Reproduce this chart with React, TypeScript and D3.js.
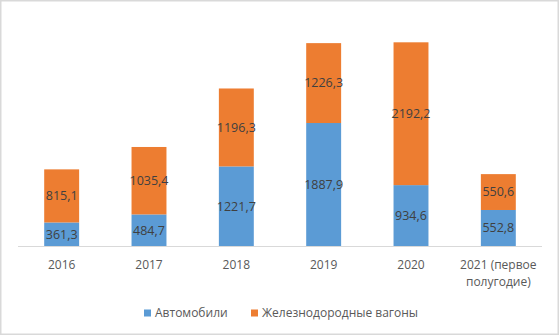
import React from "react";
import * as d3 from "d3";

const categories = ["2016", "2017", "2018", "2019", "2020", "2021 (первое полугодие)"];
const categoryLines = [["2016"], ["2017"], ["2018"], ["2019"], ["2020"], ["2021 (первое", "полугодие)"]];
const cars = [361.3, 484.7, 1221.7, 1887.9, 934.6, 552.8];
const wagons = [815.1, 1035.4, 1196.3, 1226.3, 2192.2, 550.6];
const seriesNames = ["Автомобили", "Железнодородные вагоны"];
const colors = ["#5B9BD5", "#ED7D31"];

const W = 560;
const H = 336;
const fmt = (v: number) => v.toFixed(1).replace(".", ",");

export default function App() {
  const x = d3.scaleBand<string>().domain(categories).range([18, 542]).paddingInner(0.6).paddingOuter(0.3);
  const y = d3.scaleLinear().domain([0, 3500]).range([246, 18]);
  const stackData = categories.map((c, i) => ({ cat: c, a: cars[i], b: wagons[i] }));
  const stack = d3.stack<any>().keys(["a", "b"])(stackData);
  const font = "'Open Sans', sans-serif";

  return (
    <svg width={W} height={H} style={{ position: "absolute", left: 0, top: 0 }} fontFamily={font}>
      <rect x={0} y={0} width={W} height={H} fill="#fff" />
      <rect x={0.75} y={0.75} width={557.5} height={333.5} fill="none" stroke="#d9d9d9" strokeWidth={1.5} />
      {stack.map((s, si) => (
        <g key={si}>
          {s.map((d, i) => {
            const y0 = y(d[0]);
            const y1 = y(d[1]);
            const bx = x(categories[i])!;
            return (
              <g key={i}>
                <rect x={bx} y={y1} width={x.bandwidth()} height={y0 - y1} fill={colors[si]} />
                <text
                  x={bx + x.bandwidth() / 2}
                  y={(y0 + y1) / 2}
                  dy="0.35em"
                  textAnchor="middle"
                  fontSize={12.5}
                  fill="#404040"
                >
                  {fmt(si === 0 ? cars[i] : wagons[i])}
                </text>
              </g>
            );
          })}
        </g>
      ))}
      <line x1={18} x2={542} y1={246.5} y2={246.5} stroke="#d9d9d9" strokeWidth={1} />
      {categories.map((c, i) => (
        <text key={c} x={x(c)! + x.bandwidth() / 2} y={269} textAnchor="middle" fontSize={12} fill="#595959">
          {categoryLines[i].map((l, li) => (
            <tspan key={li} x={x(c)! + x.bandwidth() / 2} dy={li === 0 ? 0 : 17}>
              {l}
            </tspan>
          ))}
        </text>
      ))}
      <g>
        <rect x={144} y={309.5} width={7} height={7} fill={colors[0]} />
        <text x={155} y={317} fontSize={12} fill="#595959">{seriesNames[0]}</text>
        <rect x={251} y={309.5} width={7} height={7} fill={colors[1]} />
        <text x={262} y={317} fontSize={12} fill="#595959">{seriesNames[1]}</text>
      </g>
    </svg>
  );
}
